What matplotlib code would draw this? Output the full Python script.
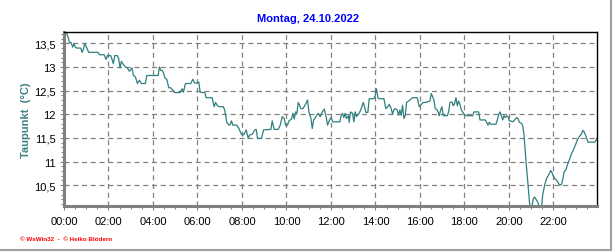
import matplotlib
matplotlib.use("Agg")
import matplotlib.pyplot as plt
from matplotlib.lines import Line2D
from matplotlib.ticker import FuncFormatter, MultipleLocator

plt.rcParams['font.family'] = ['Liberation Sans', 'DejaVu Sans']

# Zeit in Stunden seit 00:00, Taupunkt in °C
hours = [
    0.00, 0.12, 0.21, 0.24, 0.33, 0.39, 0.45, 0.51, 0.57, 0.75, 0.81, 0.87, 0.93, 0.99,
    1.11, 1.53, 1.59, 1.80, 1.89, 1.95, 2.10, 2.16, 2.22, 2.28, 2.40, 2.46, 2.52, 2.58,
    2.64, 2.76, 2.85, 2.94, 3.06, 3.12, 3.21, 3.30, 3.39, 3.48, 3.66, 3.72, 4.05,
    4.23, 4.29, 4.35, 4.41, 4.47, 4.53, 4.62, 4.71, 4.80, 4.89, 4.98, 5.22, 5.31, 5.37,
    5.46, 5.70, 5.79, 5.88, 5.97, 6.06, 6.12, 6.21, 6.33, 6.39, 6.66, 6.75, 6.81, 6.90,
    6.99, 7.17, 7.23, 7.32, 7.41, 7.47, 7.53, 7.59, 7.77, 7.86, 7.95, 8.01, 8.10,
    8.19, 8.28, 8.34, 8.46, 8.58, 8.64, 8.70, 8.88, 8.97, 9.30, 9.36, 9.45, 9.63, 9.72,
    9.81, 9.90, 9.96, 10.05, 10.11, 10.23, 10.29, 10.35, 10.41, 10.47, 10.53, 10.65,
    10.74, 10.83, 10.95, 11.01, 11.10, 11.16, 11.22, 11.28, 11.34, 11.43, 11.52, 11.61,
    11.70, 11.79, 11.85, 11.94, 12.00, 12.09, 12.15,
    12.40, 12.46, 12.52, 12.58, 12.64, 12.70, 12.79, 12.82, 12.88, 12.97, 13.03, 13.09,
    13.15, 13.21, 13.27, 13.36, 13.45, 13.51, 13.57, 13.66, 13.72, 13.93, 13.99, 14.05,
    14.11, 14.17, 14.38, 14.47, 14.56, 14.62, 14.71, 14.77, 14.83, 14.89, 14.98, 15.04,
    15.10, 15.16, 15.22, 15.28, 15.34, 15.40, 15.49, 15.67, 15.88, 15.97, 16.06, 16.15,
    16.27, 16.45, 16.51, 16.57, 16.63, 16.69, 16.78, 16.84, 16.87, 16.93, 16.99, 17.05,
    17.23, 17.29, 17.35, 17.44, 17.50, 17.56, 17.62, 17.68, 17.74, 17.80, 17.86, 17.92,
    18.01, 18.10, 18.37, 18.43, 18.64, 18.70, 18.94, 19.00, 19.06, 19.12, 19.18, 19.42,
    19.48, 19.54, 19.60, 19.66, 19.72, 19.78, 19.84, 19.90, 19.96, 20.02, 20.08, 20.17,
    20.26, 20.35, 20.41, 20.47, 20.56, 20.62, 20.68, 20.77, 20.86, 20.95, 21.01, 21.10,
    21.16, 21.22, 21.31, 21.37, 21.46, 21.52, 21.61, 21.70, 21.79, 21.88, 21.94, 22.00,
    22.06, 22.12, 22.18, 22.27, 22.36, 22.42, 22.48, 22.57, 22.63, 22.72, 22.81, 22.90,
    22.99, 23.08, 23.17, 23.26, 23.32, 23.38, 23.44, 23.50, 23.56, 23.86, 23.92, 23.98,
]
taupunkt = [
    13.73, 13.72, 13.59, 13.52, 13.51, 13.42, 13.49, 13.42, 13.40, 13.40, 13.31, 13.37, 13.49, 13.44,
    13.31, 13.31, 13.26, 13.26, 13.16, 13.24, 13.24, 13.16, 13.07, 13.24, 13.24, 13.17, 12.98, 13.12,
    13.07, 13.00, 12.98, 12.91, 12.98, 12.82, 12.79, 12.65, 12.72, 12.65, 12.65, 12.82, 12.82,
    12.82, 13.00, 12.93, 12.93, 12.88, 12.77, 12.74, 12.56, 12.56, 12.51, 12.46, 12.46, 12.54, 12.47,
    12.65, 12.65, 12.74, 12.66, 12.66, 12.68, 12.47, 12.46, 12.46, 12.35, 12.35, 12.16, 12.25, 12.18,
    12.16, 12.16, 12.07, 11.83, 11.77, 11.78, 11.86, 11.77, 11.77, 11.70, 11.60, 11.56, 11.58,
    11.67, 11.49, 11.56, 11.58, 11.67, 11.68, 11.49, 11.49, 11.67, 11.68, 11.86, 11.68, 11.68, 11.77,
    11.95, 11.91, 11.77, 11.77, 11.86, 11.90, 12.02, 11.90, 12.05, 12.02, 12.25, 12.12,
    12.12, 12.19, 12.30, 12.05, 11.91, 11.70, 11.88, 11.91, 11.97, 12.02, 11.95, 12.05,
    12.11, 11.93, 11.77, 11.88, 11.93, 11.84, 11.84,
    11.84, 11.97, 12.02, 11.93, 12.02, 11.91, 11.97, 11.83, 12.05, 12.02, 11.84, 12.05,
    11.95, 11.99, 12.02, 12.12, 12.25, 12.16, 12.04, 12.04, 12.33, 12.33, 12.40, 12.54,
    12.35, 12.33, 12.33, 12.12, 12.16, 12.21, 12.12, 12.00, 12.09, 12.12, 12.09, 11.98,
    12.09, 11.98, 12.19, 11.91, 11.97, 12.25, 12.28, 12.35, 12.35, 12.16, 12.21, 12.25,
    12.25, 12.28, 12.44, 12.37, 12.30, 12.12, 12.09, 12.02, 11.97, 12.09, 12.16, 11.97,
    11.97, 12.05, 12.25, 12.26, 12.18, 12.23, 12.35, 12.18, 12.28, 12.21, 12.09, 12.05,
    11.99, 11.97, 11.97, 12.05, 12.05, 11.88, 11.88, 11.83, 11.77, 11.83, 11.79, 11.79,
    11.88, 11.99, 12.05, 11.97, 11.88, 11.97, 11.93, 11.97, 11.95, 11.86, 11.86, 11.84,
    11.88, 11.93, 11.91, 11.83, 11.81, 11.76, 11.56, 11.00, 10.51, 10.00, 10.00, 10.22,
    10.25, 10.20, 10.13, 10.00, 10.00, 10.30, 10.51, 10.65, 10.72, 10.81, 10.76, 10.69,
    10.64, 10.62, 10.58, 10.51, 10.51, 10.62, 10.78, 10.83, 10.93, 11.04, 11.16, 11.25,
    11.35, 11.46, 11.53, 11.58, 11.66, 11.63, 11.56, 11.49, 11.41, 11.41, 11.46, 11.51,
]
x_ticks = list(range(0, 24, 2))
x_labels = [f"{h:02d}:00" for h in x_ticks]
y_ticks = [10.5, 11, 11.5, 12, 12.5, 13, 13.5]

W, H = 616, 253
fig = plt.figure(figsize=(W / 100, H / 100), dpi=100)
fig.patch.set_facecolor('white')
ax = fig.add_axes([64 / W, 1 - 207 / H, (597 - 64) / W, (207 - 33) / H])

ax.plot(hours, taupunkt, color='#2f7f7f', lw=0.9, clip_on=True)

ax.set_xlim(0, 23.96)
ax.set_ylim(10.06, 13.74)

ax.set_xticks(x_ticks)
ax.set_xticklabels(x_labels)
ax.xaxis.set_minor_locator(MultipleLocator(0.5))
ax.set_yticks(y_ticks)
ax.yaxis.set_minor_locator(MultipleLocator(0.1))


def komma(v, pos):
    s = f"{v:g}"
    return s.replace('.', ',')


ax.yaxis.set_major_formatter(FuncFormatter(komma))

ax.grid(True, which='major', color='#808080', linestyle=(0, (4, 3)), linewidth=0.9)

for side in ['top', 'right']:
    ax.spines[side].set_color('black')
    ax.spines[side].set_linewidth(1.0)
for side in ['left', 'bottom']:
    ax.spines[side].set_color('#808080')
    ax.spines[side].set_linewidth(2.2)

ax.tick_params(axis='both', which='major', direction='out', length=3, width=0.8,
               color='#808080', labelsize=8, labelcolor='black')
ax.tick_params(axis='both', which='minor', direction='out', length=2, width=0.8,
               color='#808080')
ax.tick_params(axis='x', pad=4)
ax.tick_params(axis='y', pad=3)

fig.text(308 / W, 1 - 19 / H, 'Montag, 24.10.2022', ha='center', va='center',
         color='#0000ff', fontsize=8, fontweight='bold')
fig.text(26 / W, 1 - 120 / H, 'Taupunkt  (°C)', ha='center', va='center', rotation=90,
         color='#3c8080', fontsize=8, fontweight='bold')
fig.text(20 / W, 1 - 240 / H, '© WsWin32  -  © Heiko Blödern', ha='left', va='center',
         color='#ff0000', fontsize=4.5, fontweight='bold')

# grauer Rahmen rechts und unten
fig.add_artist(Line2D([611 / W, 611 / W], [1 - 251 / H, 1], color='#a0a0a0', lw=1.5,
                      transform=fig.transFigure))
fig.add_artist(Line2D([0, 611 / W], [1 - 251 / H, 1 - 251 / H], color='#a0a0a0', lw=1.5,
                      transform=fig.transFigure))

fig.savefig('out.png', dpi=100)
